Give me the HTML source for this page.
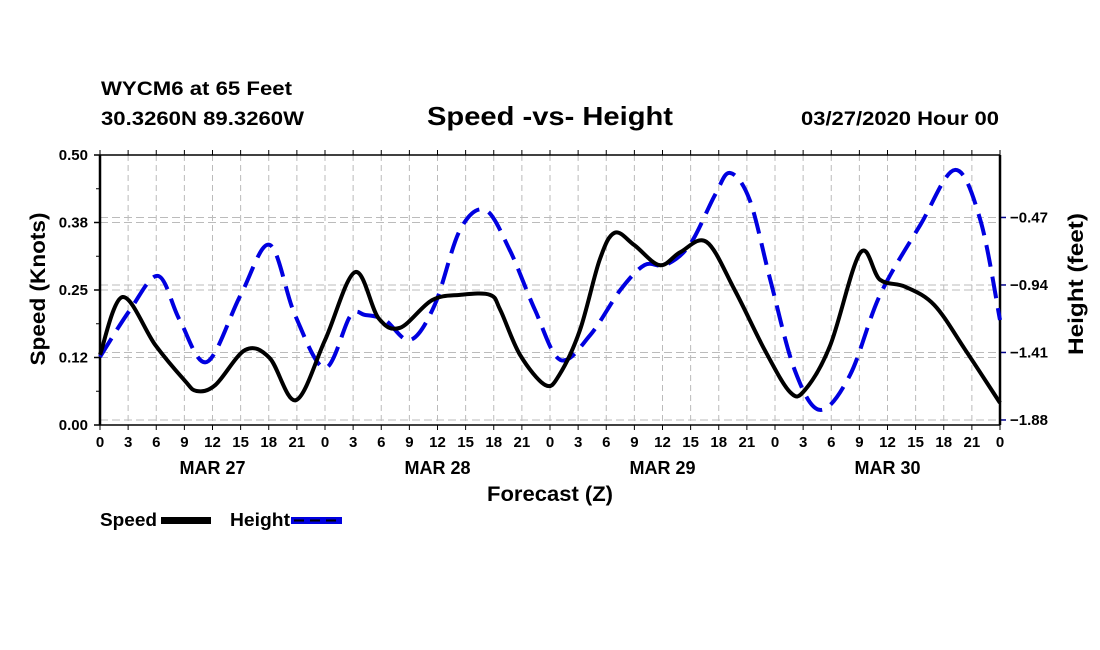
<!DOCTYPE html>
<html><head><meta charset="utf-8"><style>
body{margin:0;background:#fff;}
svg{display:block;font-family:"Liberation Sans",sans-serif;font-weight:bold;}
</style></head><body>
<svg id="chart" width="1100" height="650" viewBox="0 0 1100 650">
<text x="101" y="95" font-size="19" textLength="191" lengthAdjust="spacingAndGlyphs">WYCM6 at 65 Feet</text>
<text x="101" y="125" font-size="19" textLength="203" lengthAdjust="spacingAndGlyphs">30.3260N 89.3260W</text>
<text x="427" y="125" font-size="26" textLength="246" lengthAdjust="spacingAndGlyphs">Speed -vs- Height</text>
<text x="801" y="125" font-size="19" textLength="198" lengthAdjust="spacingAndGlyphs">03/27/2020 Hour 00</text>
<g id="grid"></g>
<g id="axes"></g>
<g id="series"></g>
<text transform="translate(45,289) rotate(-90)" font-size="21" text-anchor="middle" textLength="153" lengthAdjust="spacingAndGlyphs">Speed (Knots)</text>
<text transform="translate(1083,284) rotate(-90)" font-size="21" text-anchor="middle" textLength="142" lengthAdjust="spacingAndGlyphs">Height (feet)</text>
<text x="487" y="501" font-size="21" textLength="126" lengthAdjust="spacingAndGlyphs">Forecast (Z)</text>
<g>
<text x="100" y="526" font-size="18" textLength="57" lengthAdjust="spacingAndGlyphs">Speed</text>
<rect x="161" y="517" width="50" height="7" fill="#000"/>
<text x="230" y="526" font-size="18" textLength="60" lengthAdjust="spacingAndGlyphs">Height</text>
<rect x="291" y="517" width="51" height="7" fill="#0000e0"/>
<line x1="294" y1="520.5" x2="340" y2="520.5" stroke="#000" stroke-width="2" stroke-dasharray="10,6"/>
</g>
</svg>
<script>
const speedHours=[0,2.4,5.9,9,10.3,12.3,15.5,18.1,20.9,24,27.2,29.7,32,35.4,38.4,41.6,42.7,44.8,47.5,49,51.2,53.3,54.9,57,59.7,61.9,64.7,67.7,70.9,73.6,75.2,77.9,81.1,83.2,85.9,89,92.3,96];
const speedValues=[0.130,0.237,0.148,0.083,0.063,0.074,0.139,0.124,0.046,0.157,0.283,0.198,0.180,0.231,0.241,0.241,0.213,0.130,0.074,0.093,0.176,0.306,0.356,0.333,0.296,0.320,0.339,0.250,0.139,0.061,0.065,0.148,0.319,0.269,0.256,0.222,0.139,0.041];
const heightHours=[0,3.2,6.2,8.5,11.4,15,18.1,20.8,24,26.7,28.3,30.4,33.1,35.7,38.4,41.1,43.7,46.4,49.1,52.3,55.5,58.1,60.3,62.9,65.6,67.2,69.3,71.5,74.1,76.8,80,83.2,87.5,91.2,93.9,96];
const heightValues=[-1.441,-1.114,-0.877,-1.184,-1.476,-1.010,-0.661,-1.149,-1.518,-1.156,-1.149,-1.184,-1.323,-1.079,-0.557,-0.418,-0.696,-1.114,-1.462,-1.288,-0.975,-0.801,-0.801,-0.661,-0.313,-0.160,-0.348,-0.905,-1.532,-1.810,-1.567,-1.010,-0.522,-0.139,-0.487,-1.184];
const leftTicks=[0,0.125,0.25,0.375,0.5];
const leftTickLabels=["0.00","0.12","0.25","0.38","0.50"];
const rightTicks=[-1.88,-1.41,-0.94,-0.47];
const rightTickLabels=["\u22121.88","\u22121.41","\u22120.94","\u22120.47"];
const dayLabels=["MAR 27","MAR 28","MAR 29","MAR 30"];

const X0=100,X1=1000,Y0=425,Y1=155;
const xs=h=>X0+(h/96)*(X1-X0);
const yL=v=>Y0-(v/0.5)*(Y0-Y1);
const yR=v=>Y0-((v+1.915)/(1.88))*(Y0-Y1);
const NS="http://www.w3.org/2000/svg";
function mk(tag,attrs,parent){const e=document.createElementNS(NS,tag);for(const k in attrs)e.setAttribute(k,attrs[k]);parent.appendChild(e);return e;}
const grid=document.getElementById('grid'),axes=document.getElementById('axes'),series=document.getElementById('series');

for(let h=3;h<96;h+=3){
 const l=mk('line',{x1:xs(h),x2:xs(h),y1:Y1,y2:Y0,stroke:'#bbb','stroke-dasharray':'6,4'},grid);
 
 
}
leftTicks.forEach((v,i)=>{
 if(v>0&&v<0.5){const l=mk('line',{x1:X0,x2:X1,y1:yL(v),y2:yL(v),stroke:'#bbb','stroke-dasharray':'8,4'},grid);
 
 }
 mk('line',{x1:X0-6,x2:X0,y1:yL(v),y2:yL(v),stroke:'#000','stroke-width':1.5},axes);
 const t=mk('text',{x:X0-12,y:yL(v)+5,'font-size':15,'text-anchor':'end'},axes);
 
 
 t.textContent=leftTickLabels[i];
 if(i<leftTicks.length-1){const m=(v+leftTicks[i+1])/2;mk('line',{x1:X0-4,x2:X0,y1:yL(m),y2:yL(m),stroke:'#000'},axes);}
});
rightTicks.forEach((v,i)=>{
 const l=mk('line',{x1:X0,x2:X1,y1:yR(v),y2:yR(v),stroke:'#bbb','stroke-dasharray':'8,4'},grid);
 
 
 mk('line',{x1:X1,x2:X1+6,y1:yR(v),y2:yR(v),stroke:'#00008b','stroke-width':1.5},axes);
 const t=mk('text',{x:X1+10,y:yR(v)+5,'font-size':15},axes);
 
 
 t.textContent=rightTickLabels[i];
});
mk('line',{x1:X0,x2:X1,y1:Y1,y2:Y1,stroke:'#000','stroke-width':1.5},axes);
mk('line',{x1:X0,x2:X1,y1:Y0,y2:Y0,stroke:'#000','stroke-width':1.5},axes);
mk('line',{x1:X0,x2:X0,y1:Y1,y2:Y0,stroke:'#000','stroke-width':2.5},axes);
mk('line',{x1:X1,x2:X1,y1:Y1,y2:Y0,stroke:'#000','stroke-width':2.5},axes);
for(let h=0;h<=96;h+=3){
 mk('line',{x1:xs(h),x2:xs(h),y1:Y0,y2:Y0+5,stroke:'#000'},axes);
 mk('line',{x1:xs(h),x2:xs(h),y1:Y1,y2:Y1-5,stroke:'#000'},axes);
 const t=mk('text',{x:xs(h),y:Y0+22,'font-size':15,'text-anchor':'middle'},axes);
 
 
 t.textContent=String(h%24);
}
dayLabels.forEach((d,i)=>{
 const t=mk('text',{x:xs(i*24+12),y:Y0+49,'font-size':18,'text-anchor':'middle'},axes);
 
 
 t.textContent=d;
});
function smooth(pts){let d=`M${pts[0][0]},${pts[0][1]}`;
 for(let i=0;i<pts.length-1;i++){const p0=pts[Math.max(0,i-1)],p1=pts[i],p2=pts[i+1],p3=pts[Math.min(pts.length-1,i+2)];
  const c1=[p1[0]+(p2[0]-p0[0])/6,p1[1]+(p2[1]-p0[1])/6],c2=[p2[0]-(p3[0]-p1[0])/6,p2[1]-(p3[1]-p1[1])/6];
  d+=` C${c1[0]},${c1[1]} ${c2[0]},${c2[1]} ${p2[0]},${p2[1]}`;}
 return d;}
const hp=mk('path',{d:smooth(heightHours.map((h,i)=>[xs(h),yR(heightValues[i])])),fill:'none',stroke:'#0000e0','stroke-width':4,'stroke-dasharray':'22,10'},series);


const sp=mk('path',{d:smooth(speedHours.map((h,i)=>[xs(h),yL(speedValues[i])])),fill:'none',stroke:'#000','stroke-width':4},series);


</script>
</body></html>
